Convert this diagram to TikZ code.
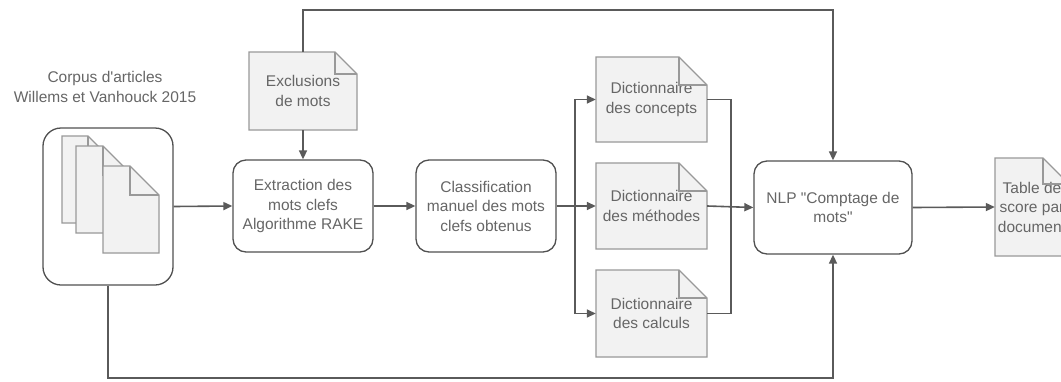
\documentclass[tikz,border=0pt]{standalone}
\usepackage{fontspec}
\setmainfont{Liberation Sans}[Ligatures=TeXOff]
\usetikzlibrary{arrows.meta}
\definecolor{lnc}{HTML}{5A5A5A}
\definecolor{boxc}{HTML}{505050}
\definecolor{docb}{HTML}{999999}
\definecolor{docf}{HTML}{F2F2F2}
\definecolor{txtc}{HTML}{666666}
\tikzset{
  conn/.style={draw=lnc, line width=1.6pt},
  arr/.style={conn, -{Triangle[length=9pt,width=8pt]}},
  procbox/.style={draw=boxc, fill=white, line width=1.3pt, rounded corners=13pt,
    text=txtc, align=center, font=\fontsize{15.5}{19.5}\selectfont, inner sep=0pt},
  docfill/.style={draw=docb, fill=docf, line width=1.1pt, line join=miter},
  docline/.style={draw=docb, line width=1.1pt},
  doctext/.style={text=txtc, align=center, font=\fontsize{15.5}{19.5}\selectfont, inner sep=0pt},
}
% #1 name, #2 cx, #3 cy, #4 w, #5 h, #6 fold, #7 text
\newcommand\docnode[7]{%
  \path[docfill] ({#2-#4/2},{#3-#5/2}) -- ({#2+#4/2-#6},{#3-#5/2}) -- ({#2+#4/2},{#3-#5/2+#6})
     -- ({#2+#4/2},{#3+#5/2}) -- ({#2-#4/2},{#3+#5/2}) -- cycle;
  \node[doctext, minimum width=#4pt, minimum height=#5pt] (#1) at (#2,#3) {#7};
  \draw[docline] ({#2+#4/2-#6},{#3-#5/2}) -- ({#2+#4/2-#6},{#3-#5/2+#6}) -- ({#2+#4/2},{#3-#5/2+#6});
}
\begin{document}
\begin{tikzpicture}[x=1pt,y=-1pt]
\useasboundingbox (0,0) rectangle (1061,381);
\clip (0,0) rectangle (1061,381);
\fill[white] (0,0) rectangle (1061,381);

% corpus
\node[doctext] (corpuslabel) at (105,87) {Corpus d'articles\\Willems et Vanhouck 2015};
\node[procbox, rounded corners=18pt, minimum width=130pt, minimum height=157pt] (corpus) at (108,206.5) {};
\docnode{cdoca}{90}{179.5}{56}{87}{30}{}
\docnode{cdocb}{104}{189.5}{56}{87}{29}{}
\docnode{cdocc}{131}{209.5}{56}{87}{29}{}

% process boxes
\node[procbox, minimum width=140pt, minimum height=92pt] (extr) at (303,206) {Extraction des\\mots clefs\\Algorithme RAKE};
\node[procbox, minimum width=140pt, minimum height=92pt] (classif) at (486,206) {Classification\\manuel des mots\\clefs obtenus};
\node[procbox, minimum width=158pt, minimum height=93pt] (nlp) at (833,207.5) {NLP "Comptage de\\mots"};

% documents
\docnode{excl}{303}{91}{108}{78}{22}{Exclusions\\de mots}
\docnode{concepts}{651.5}{99.5}{111}{85}{28}{Dictionnaire\\des concepts}
\docnode{methodes}{651.5}{206}{111}{86}{28}{Dictionnaire\\des méthodes}
\docnode{calculs}{651.5}{313.5}{111}{87}{28}{Dictionnaire\\des calculs}
\docnode{table}{1032}{207}{74}{98}{26}{Table de\\score par\\document}

% helper coordinates
\coordinate (topy) at (0,10);
\coordinate (boty) at (0,378);
\coordinate (br) at (575,206);
\coordinate (mg) at (731,206);

% connectors
\draw[arr] (corpus.east) -- (extr.west);
\draw[arr] (excl.south) -- (extr.north);
\draw[arr] (extr.east) -- (classif.west);
\draw[conn] (classif.east) -- (br);
\draw[arr] (br) |- (concepts.west);
\draw[arr] (br) -- (methodes.west);
\draw[arr] (br) |- (calculs.west);
\draw[conn] (concepts.east) -| (mg);
\draw[conn] (calculs.east) -| (mg);
\draw[arr] (methodes.east) -- (nlp.west);
\draw[arr] (excl.north) |- (topy -| nlp.north) -- (nlp.north);
\draw[arr] (corpus.south) |- (boty -| nlp.south) -- (nlp.south);
\draw[arr] (nlp.east) -- (table.west);
\end{tikzpicture}
\end{document}
